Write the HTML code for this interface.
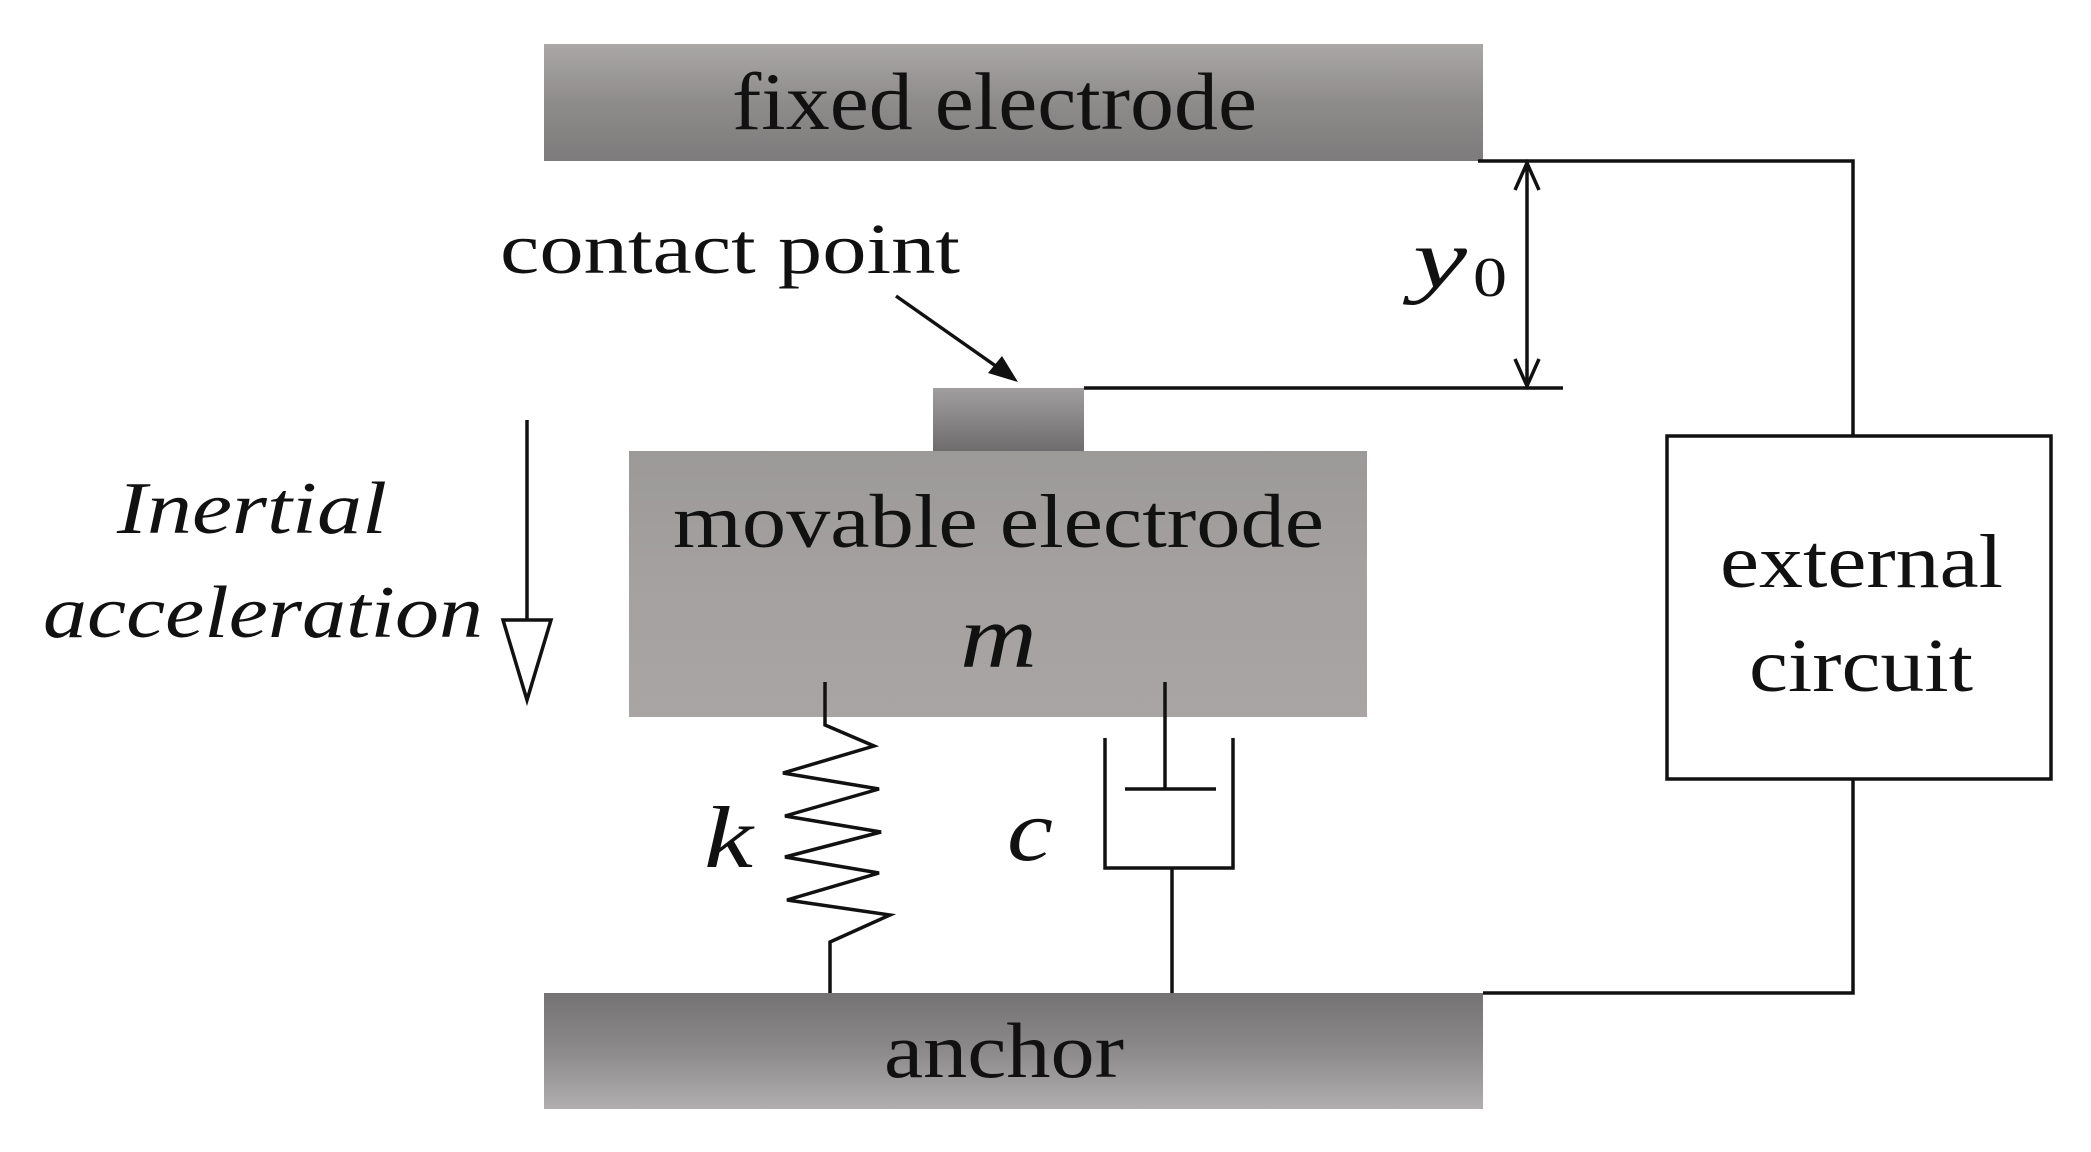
<!DOCTYPE html>
<html><head><style>
html,body{margin:0;padding:0;background:#fff;}
svg{display:block;}
text{font-family:"Liberation Serif",serif;fill:#111;}
</style></head><body>
<svg width="2091" height="1152" viewBox="0 0 2091 1152" xmlns="http://www.w3.org/2000/svg">
<defs>
<linearGradient id="gf" x1="0" y1="0" x2="0" y2="1">
<stop offset="0" stop-color="#aaa7a7"/><stop offset="0.5" stop-color="#8e8b8b"/><stop offset="1" stop-color="#7d7b7b"/></linearGradient>
<linearGradient id="ga" x1="0" y1="0" x2="0" y2="1">
<stop offset="0" stop-color="#747272"/><stop offset="0.5" stop-color="#8c8a8a"/><stop offset="1" stop-color="#b0aeae"/></linearGradient>
<linearGradient id="gm" x1="0" y1="0" x2="0" y2="1">
<stop offset="0" stop-color="#9c9999"/><stop offset="0.5" stop-color="#a5a1a1"/><stop offset="1" stop-color="#a9a5a5"/></linearGradient>
<linearGradient id="gc" x1="0" y1="0" x2="0" y2="1">
<stop offset="0" stop-color="#a09e9e"/><stop offset="1" stop-color="#6e6c6c"/></linearGradient>
</defs>
<rect x="544" y="44" width="939" height="117" fill="url(#gf)"/>
<rect x="933" y="388" width="151" height="63" fill="url(#gc)"/>
<rect x="629" y="451" width="738" height="266" fill="url(#gm)"/>
<rect x="544" y="993" width="939" height="116" fill="url(#ga)"/>
<g stroke="#111" stroke-width="3.5" fill="none">
<polyline points="1478,161 1853,161 1853,436"/>
<rect x="1667" y="436" width="384" height="343"/>
<polyline points="1853,779 1853,993 1483,993"/>
<line x1="1084" y1="388" x2="1563" y2="388"/>
<line x1="1527" y1="163" x2="1527" y2="386"/>
<polyline points="1515,190 1527,163 1539,190"/>
<polyline points="1515,359 1527,386 1539,359"/>
<line x1="896" y1="296" x2="1000" y2="369"/>
<line x1="527" y1="420" x2="527" y2="620"/>
<polygon points="503,620 551,620 527,700"/>
<polyline points="825,682 825,725 874,746 783,773 879,789 785,816 881,832 785,857 879,873 787,900 890,915 830,942 830,993"/>
<line x1="1165" y1="682" x2="1165" y2="789"/>
<line x1="1125" y1="789" x2="1216" y2="789"/>
<polyline points="1105,738 1105,868 1233,868 1233,738"/>
<line x1="1172" y1="868" x2="1172" y2="993"/>
</g>
<polygon points="1018,382 988,373 1002,356" fill="#111"/>
<text x="732" y="129" font-size="82" textLength="525" lengthAdjust="spacingAndGlyphs">fixed electrode</text>
<text x="500" y="273" font-size="72" textLength="460" lengthAdjust="spacingAndGlyphs">contact point</text>
<text x="1413" y="287" font-size="84" font-style="italic" textLength="54" lengthAdjust="spacingAndGlyphs">y</text>
<text x="1473" y="296" font-size="56" textLength="34" lengthAdjust="spacingAndGlyphs">0</text>
<text x="117" y="533" font-size="74" font-style="italic" textLength="270" lengthAdjust="spacingAndGlyphs">Inertial</text>
<text x="43" y="637" font-size="74" font-style="italic" textLength="440" lengthAdjust="spacingAndGlyphs">acceleration</text>
<text x="673" y="547" font-size="76" textLength="651" lengthAdjust="spacingAndGlyphs">movable electrode</text>
<text x="960" y="667" font-size="90" font-style="italic" textLength="77" lengthAdjust="spacingAndGlyphs">m</text>
<text x="1720" y="587" font-size="76" textLength="283" lengthAdjust="spacingAndGlyphs">external</text>
<text x="1749" y="691" font-size="76" textLength="224" lengthAdjust="spacingAndGlyphs">circuit</text>
<text x="884" y="1077" font-size="78" textLength="240" lengthAdjust="spacingAndGlyphs">anchor</text>
<text x="704" y="867" font-size="88" font-style="italic" textLength="49" lengthAdjust="spacingAndGlyphs">k</text>
<text x="1007" y="860" font-size="88" font-style="italic" textLength="46" lengthAdjust="spacingAndGlyphs">c</text>
</svg>
</body></html>
